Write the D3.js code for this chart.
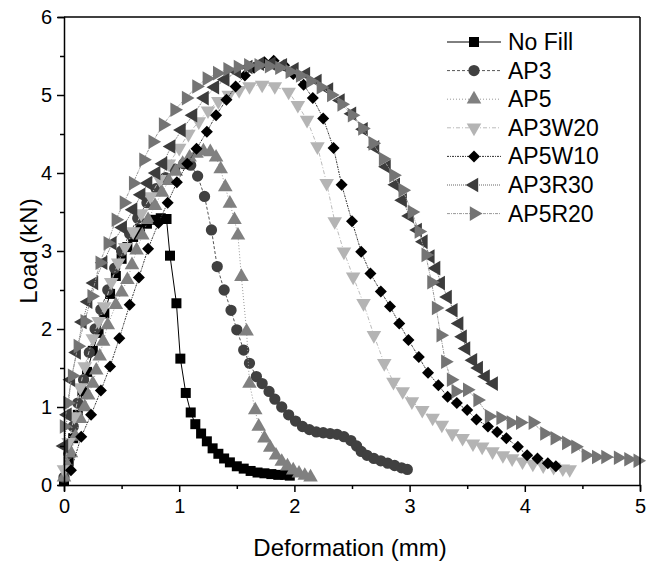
<!DOCTYPE html>
<html>
<head>
<meta charset="utf-8">
<script src="https://cdn.jsdelivr.net/npm/d3@7"></script>
<style>
  body { margin: 0; background: #fff; }
  text { font-family: Arial, "Liberation Sans", sans-serif; fill: #000; }
  .axis path, .axis line { stroke: #000; stroke-width: 1.5px; }
  .axis text { font-size: 20px; }
</style>
</head>
<body>
<svg width="648" height="562"></svg>
<script>
// series names and styles
var names = ['No Fill', 'AP3', 'AP5', 'AP3W20', 'AP5W10', 'AP3R30', 'AP5R20']
var xTicks = [0, 1, 2, 3, 4, 5]
var yTicks = [0, 1, 2, 3, 4, 5, 6]

// deformation (mm) / load (kN)
var noFillX = [0, 0.04, 0.08, 0.12, 0.16, 0.2, 0.25, 0.3, 0.35, 0.4, 0.45, 0.5, 0.55, 0.6, 0.66, 0.72, 0.78, 0.84, 0.89, 0.92, 0.976, 1.01, 1.057, 1.1, 1.14, 1.19, 1.24, 1.29, 1.34, 1.39, 1.44, 1.5, 1.56, 1.62, 1.68, 1.74, 1.8, 1.86, 1.92, 1.96]
var noFillY = [0.05, 0.3, 0.6, 0.9, 1.2, 1.45, 1.72, 1.95, 2.2, 2.45, 2.68, 2.9, 3.05, 3.18, 3.28, 3.35, 3.4, 3.42, 3.41, 2.94, 2.33, 1.62, 1.18, 0.93, 0.78, 0.66, 0.56, 0.47, 0.4, 0.34, 0.29, 0.24, 0.21, 0.18, 0.16, 0.15, 0.14, 0.13, 0.13, 0.12]

var ap3X = [0, 0.04, 0.08, 0.12, 0.17, 0.22, 0.27, 0.32, 0.38, 0.44, 0.5, 0.57, 0.64, 0.72, 0.8, 0.88, 0.96, 1.04, 1.1, 1.16, 1.22, 1.28, 1.33, 1.39, 1.45, 1.5, 1.56, 1.61, 1.67, 1.72, 1.78, 1.83, 1.89, 1.95, 2.01, 2.07, 2.13, 2.19, 2.25, 2.31, 2.37, 2.43, 2.49, 2.54, 2.58, 2.63, 2.69, 2.75, 2.81, 2.87, 2.93, 2.98]
var ap3Y = [0.1, 0.4, 0.75, 1.05, 1.35, 1.7, 2.0, 2.25, 2.5, 2.78, 3.0, 3.22, 3.42, 3.62, 3.8, 3.94, 4.05, 4.12, 4.1, 3.96, 3.7, 3.27, 2.8, 2.5, 2.24, 1.99, 1.73, 1.56, 1.39, 1.3, 1.2, 1.1, 1.0, 0.9, 0.82, 0.75, 0.71, 0.68, 0.67, 0.66, 0.65, 0.62, 0.57, 0.5, 0.43, 0.38, 0.34, 0.31, 0.28, 0.25, 0.22, 0.2]

var ap5X = [0, 0.03, 0.06, 0.1, 0.14, 0.18, 0.21, 0.25, 0.28, 0.31, 0.34, 0.38, 0.45, 0.5, 0.55, 0.59, 0.63, 0.68, 0.73, 0.79, 0.85, 0.91, 0.97, 1.03, 1.09, 1.15, 1.21, 1.27, 1.32, 1.36, 1.4, 1.44, 1.48, 1.51, 1.54, 1.585, 1.61, 1.66, 1.69, 1.74, 1.79, 1.84, 1.89, 1.94, 1.99, 2.04, 2.09, 2.14]
var ap5Y = [0.1, 0.25, 0.41, 0.62, 0.85, 1.0, 1.15, 1.3, 1.47, 1.65, 1.84, 2.05, 2.31, 2.47, 2.63, 2.82, 3.01, 3.2, 3.4, 3.58, 3.75, 3.9, 4.02, 4.12, 4.2, 4.25, 4.28, 4.27, 4.2, 4.05, 3.82, 3.61, 3.4, 3.2, 2.67, 1.97, 1.3, 0.96, 0.75, 0.6, 0.48, 0.38, 0.3, 0.24, 0.19, 0.15, 0.12, 0.1]

var ap3w20X = [0, 0.04, 0.09, 0.14, 0.18, 0.25, 0.3, 0.35, 0.41, 0.47, 0.53, 0.6, 0.67, 0.75, 0.83, 0.91, 1.0, 1.08, 1.17, 1.25, 1.34, 1.43, 1.52, 1.61, 1.72, 1.83, 1.95, 2.03, 2.11, 2.2, 2.28, 2.35, 2.43, 2.51, 2.6, 2.69, 2.78, 2.86, 2.94, 3.02, 3.11, 3.2, 3.28, 3.37, 3.46, 3.55, 3.63, 3.72, 3.81, 3.89, 3.98, 4.07, 4.16, 4.25, 4.33, 4.39]
var ap3w20Y = [0.2, 0.55, 0.88, 1.25, 1.52, 1.88, 2.1, 2.29, 2.6, 2.85, 3.05, 3.25, 3.48, 3.7, 3.92, 4.12, 4.32, 4.5, 4.66, 4.8, 4.92, 5.0, 5.06, 5.11, 5.13, 5.11, 5.04, 4.87, 4.68, 4.34, 3.87, 3.38, 2.99, 2.67, 2.33, 1.92, 1.56, 1.32, 1.2, 1.07, 0.96, 0.86, 0.77, 0.66, 0.6, 0.53, 0.49, 0.43, 0.38, 0.34, 0.3, 0.27, 0.25, 0.23, 0.21, 0.2]

var ap5w10X = [0.06, 0.15, 0.235, 0.32, 0.4, 0.48, 0.57, 0.65, 0.73, 0.82, 0.9, 0.98, 1.07, 1.15, 1.24, 1.32, 1.41, 1.49, 1.57, 1.65, 1.74, 1.82, 1.91, 1.99, 2.08, 2.16, 2.25, 2.34, 2.41, 2.5, 2.58, 2.66, 2.75, 2.83, 2.91, 2.99, 3.08, 3.16, 3.25, 3.33, 3.41, 3.5, 3.58, 3.68, 3.76, 3.84, 3.94, 4.02, 4.11, 4.2, 4.27]
var ap5w10Y = [0.19, 0.62, 0.9, 1.21, 1.52, 1.88, 2.31, 2.66, 3.03, 3.36, 3.62, 3.88, 4.12, 4.31, 4.53, 4.74, 4.94, 5.11, 5.25, 5.35, 5.42, 5.44, 5.38, 5.27, 5.13, 4.96, 4.7, 4.32, 3.85, 3.38, 2.99, 2.71, 2.48, 2.29, 2.07, 1.86, 1.64, 1.44, 1.28, 1.13, 1.05, 0.96, 0.84, 0.75, 0.68, 0.6, 0.49, 0.38, 0.34, 0.28, 0.24]

var ap3r30X = [0, 0.03, 0.06, 0.11, 0.16, 0.21, 0.26, 0.34, 0.42, 0.51, 0.6, 0.67, 0.73, 0.8, 0.86, 0.93, 1.02, 1.12, 1.22, 1.31, 1.4, 1.5, 1.6, 1.7, 1.8, 1.9, 2.0, 2.1, 2.2, 2.3, 2.4, 2.5, 2.6, 2.7, 2.8, 2.88, 2.94, 3.0, 3.07, 3.12, 3.18, 3.23, 3.27, 3.33, 3.38, 3.43, 3.46, 3.49, 3.55, 3.6, 3.66, 3.73]
var ap3r30Y = [0.5, 0.9, 1.35, 1.7, 2.09, 2.35, 2.59, 2.85, 3.1, 3.3, 3.53, 3.72, 3.87, 4.0, 4.12, 4.34, 4.55, 4.74, 4.96, 5.1, 5.2, 5.3, 5.36, 5.4, 5.4, 5.38, 5.33, 5.27, 5.18, 5.07, 4.93, 4.76, 4.56, 4.33, 4.08, 3.85, 3.65, 3.45, 3.27, 3.12, 2.93, 2.78, 2.59, 2.41, 2.24, 2.07, 1.9, 1.75, 1.6, 1.5, 1.39, 1.3]

var ap5r20X = [0, 0.03, 0.07, 0.12, 0.18, 0.24, 0.31, 0.38, 0.45, 0.52, 0.6, 0.69, 0.77, 0.86, 0.96, 1.06, 1.15, 1.24, 1.33, 1.42, 1.51, 1.6, 1.69, 1.78, 1.87, 1.96, 2.05, 2.14, 2.23, 2.32, 2.41, 2.5, 2.59, 2.68, 2.77, 2.86, 2.94, 3.02, 3.08, 3.14, 3.19, 3.23, 3.27, 3.31, 3.36, 3.4, 3.5, 3.59, 3.69, 3.79, 3.88, 3.96, 4.07, 4.17, 4.26, 4.36, 4.44, 4.53, 4.62, 4.7, 4.81, 4.9, 4.98]
var ap5r20Y = [0.75, 1.05, 1.4, 1.78, 2.1, 2.42, 2.85, 3.1, 3.4, 3.62, 3.87, 4.17, 4.4, 4.62, 4.81, 4.96, 5.11, 5.21, 5.28, 5.33, 5.36, 5.38, 5.38, 5.37, 5.35, 5.3, 5.25, 5.18, 5.1, 5.0, 4.88, 4.74, 4.57, 4.38, 4.18, 3.97, 3.78, 3.5, 3.25, 2.95, 2.6, 2.27, 1.92, 1.58, 1.35, 1.2, 1.22, 1.09, 0.88, 0.86, 0.8, 0.8, 0.8, 0.66, 0.6, 0.54, 0.49, 0.38, 0.36, 0.36, 0.35, 0.33, 0.31]

var seriesX = [noFillX, ap3X, ap5X, ap3w20X, ap5w10X, ap3r30X, ap5r20X]
var seriesY = [noFillY, ap3Y, ap5Y, ap3w20Y, ap5w10Y, ap3r30Y, ap5r20Y]

var fills = ['#000', '#404040', '#808080', '#b4b4b4', '#000', '#3c3c3c', '#747474']
var lineCols = ['#000', '#555', '#999', '#bbb', '#333', '#666', '#999']
var dashes = [null, '3,2', '1,2', '4,2,1,2', '2,1,1,1', '1,1', '3,1,1,1']

var symTri = d3.symbol().type(d3.symbolTriangle).size(92)
var symbols = [
  { p: d3.symbol().type(d3.symbolSquare).size(100)(), r: 0 },
  { p: d3.symbol().type(d3.symbolCircle).size(100)(), r: 0 },
  { p: symTri(), r: 0 },
  { p: symTri(), r: 180 },
  { p: d3.symbol().type(d3.symbolSquare).size(72)(), r: 45 },
  { p: symTri(), r: -90 },
  { p: symTri(), r: 90 }
]

var margin = { left: 64, top: 17, right: 8, bottom: 77 }
var width = 648 - margin.left - margin.right
var height = 562 - margin.top - margin.bottom

var svg = d3.select('svg')
var g = svg.append('g')
  .attr('transform', 'translate(' + margin.left + ',' + margin.top + ')')

var x = d3.scaleLinear().domain([0, 5]).range([0, width])
var y = d3.scaleLinear().domain([0, 6]).range([height, 0])

// curves
var line = d3.line()
  .x(function(d) { return x(d[0]) })
  .y(function(d) { return y(d[1]) })

names.forEach(function(name, i) {
  var pts = seriesX[i].map(function(v, j) { return [v, seriesY[i][j]] })
  var sg = g.append('g')
  sg.append('path')
    .datum(pts)
    .attr('d', line)
    .attr('fill', 'none')
    .attr('stroke', lineCols[i])
    .attr('stroke-width', 1)
    .attr('stroke-dasharray', dashes[i])
  sg.selectAll('path.pt')
    .data(pts)
    .enter()
    .append('path')
    .classed('pt', true)
    .attr('d', symbols[i].p)
    .attr('fill', fills[i])
    .attr('transform', function(d) {
      return 'translate(' + x(d[0]) + ',' + y(d[1]) + ') rotate(' + symbols[i].r + ')'
    })
})

// axes
var xAxis = d3.axisBottom(x).tickValues(d3.range(0, 5.01, 0.5))
  .tickSizeOuter(0).tickPadding(6)
  .tickSize(6)
  .tickFormat(function(d) { return xTicks.indexOf(d) >= 0 ? d : '' })
var yAxis = d3.axisLeft(y).tickValues(d3.range(0, 6.01, 0.5))
  .tickSizeOuter(0).tickPadding(5)
  .tickSize(6)
  .tickFormat(function(d) { return yTicks.indexOf(d) >= 0 ? d : '' })

var gx = g.append('g').attr('class', 'axis')
  .attr('transform', 'translate(0,' + height + ')')
  .call(xAxis)
gx.selectAll('.tick line').attr('y2', function(d) { return d % 1 === 0 ? 7 : 4 })
gx.selectAll('.tick text').attr('y', 14)

var gy = g.append('g').attr('class', 'axis').call(yAxis)
gy.selectAll('.tick line').attr('x2', function(d) { return d % 1 === 0 ? -7 : -4 })
gy.selectAll('.tick text').attr('x', -12)

// frame top and right
g.append('line').attr('x1', 0).attr('x2', width).attr('y1', 0).attr('y2', 0)
  .attr('stroke', '#000').attr('stroke-width', 1.5)
g.append('line').attr('x1', width).attr('x2', width).attr('y1', 0).attr('y2', height)
  .attr('stroke', '#000').attr('stroke-width', 1.5)

// axis titles
svg.append('text')
  .attr('x', margin.left + width / 2 - 2)
  .attr('y', 556)
  .attr('text-anchor', 'middle')
  .style('font-size', '24px')
  .text('Deformation (mm)')
svg.append('text')
  .attr('transform', 'translate(37,' + (margin.top + height / 2) + ') rotate(-90)')
  .attr('text-anchor', 'middle')
  .style('font-size', '24px')
  .text('Load (kN)')

// legend
var lg = svg.append('g').attr('transform', 'translate(447,42)')
names.forEach(function(name, i) {
  var row = lg.append('g').attr('transform', 'translate(0,' + (i * 28.6) + ')')
  row.append('line')
    .attr('x1', 0).attr('x2', 54).attr('y1', 0).attr('y2', 0)
    .attr('stroke', lineCols[i]).attr('stroke-width', 1)
    .attr('stroke-dasharray', dashes[i])
  row.append('path')
    .attr('d', symbols[i].p)
    .attr('fill', fills[i])
    .attr('transform', 'translate(27,0) rotate(' + symbols[i].r + ')')
  row.append('text')
    .attr('x', 61).attr('y', 8)
    .style('font-size', '23px')
    .text(name)
})
</script>
</body>
</html>
